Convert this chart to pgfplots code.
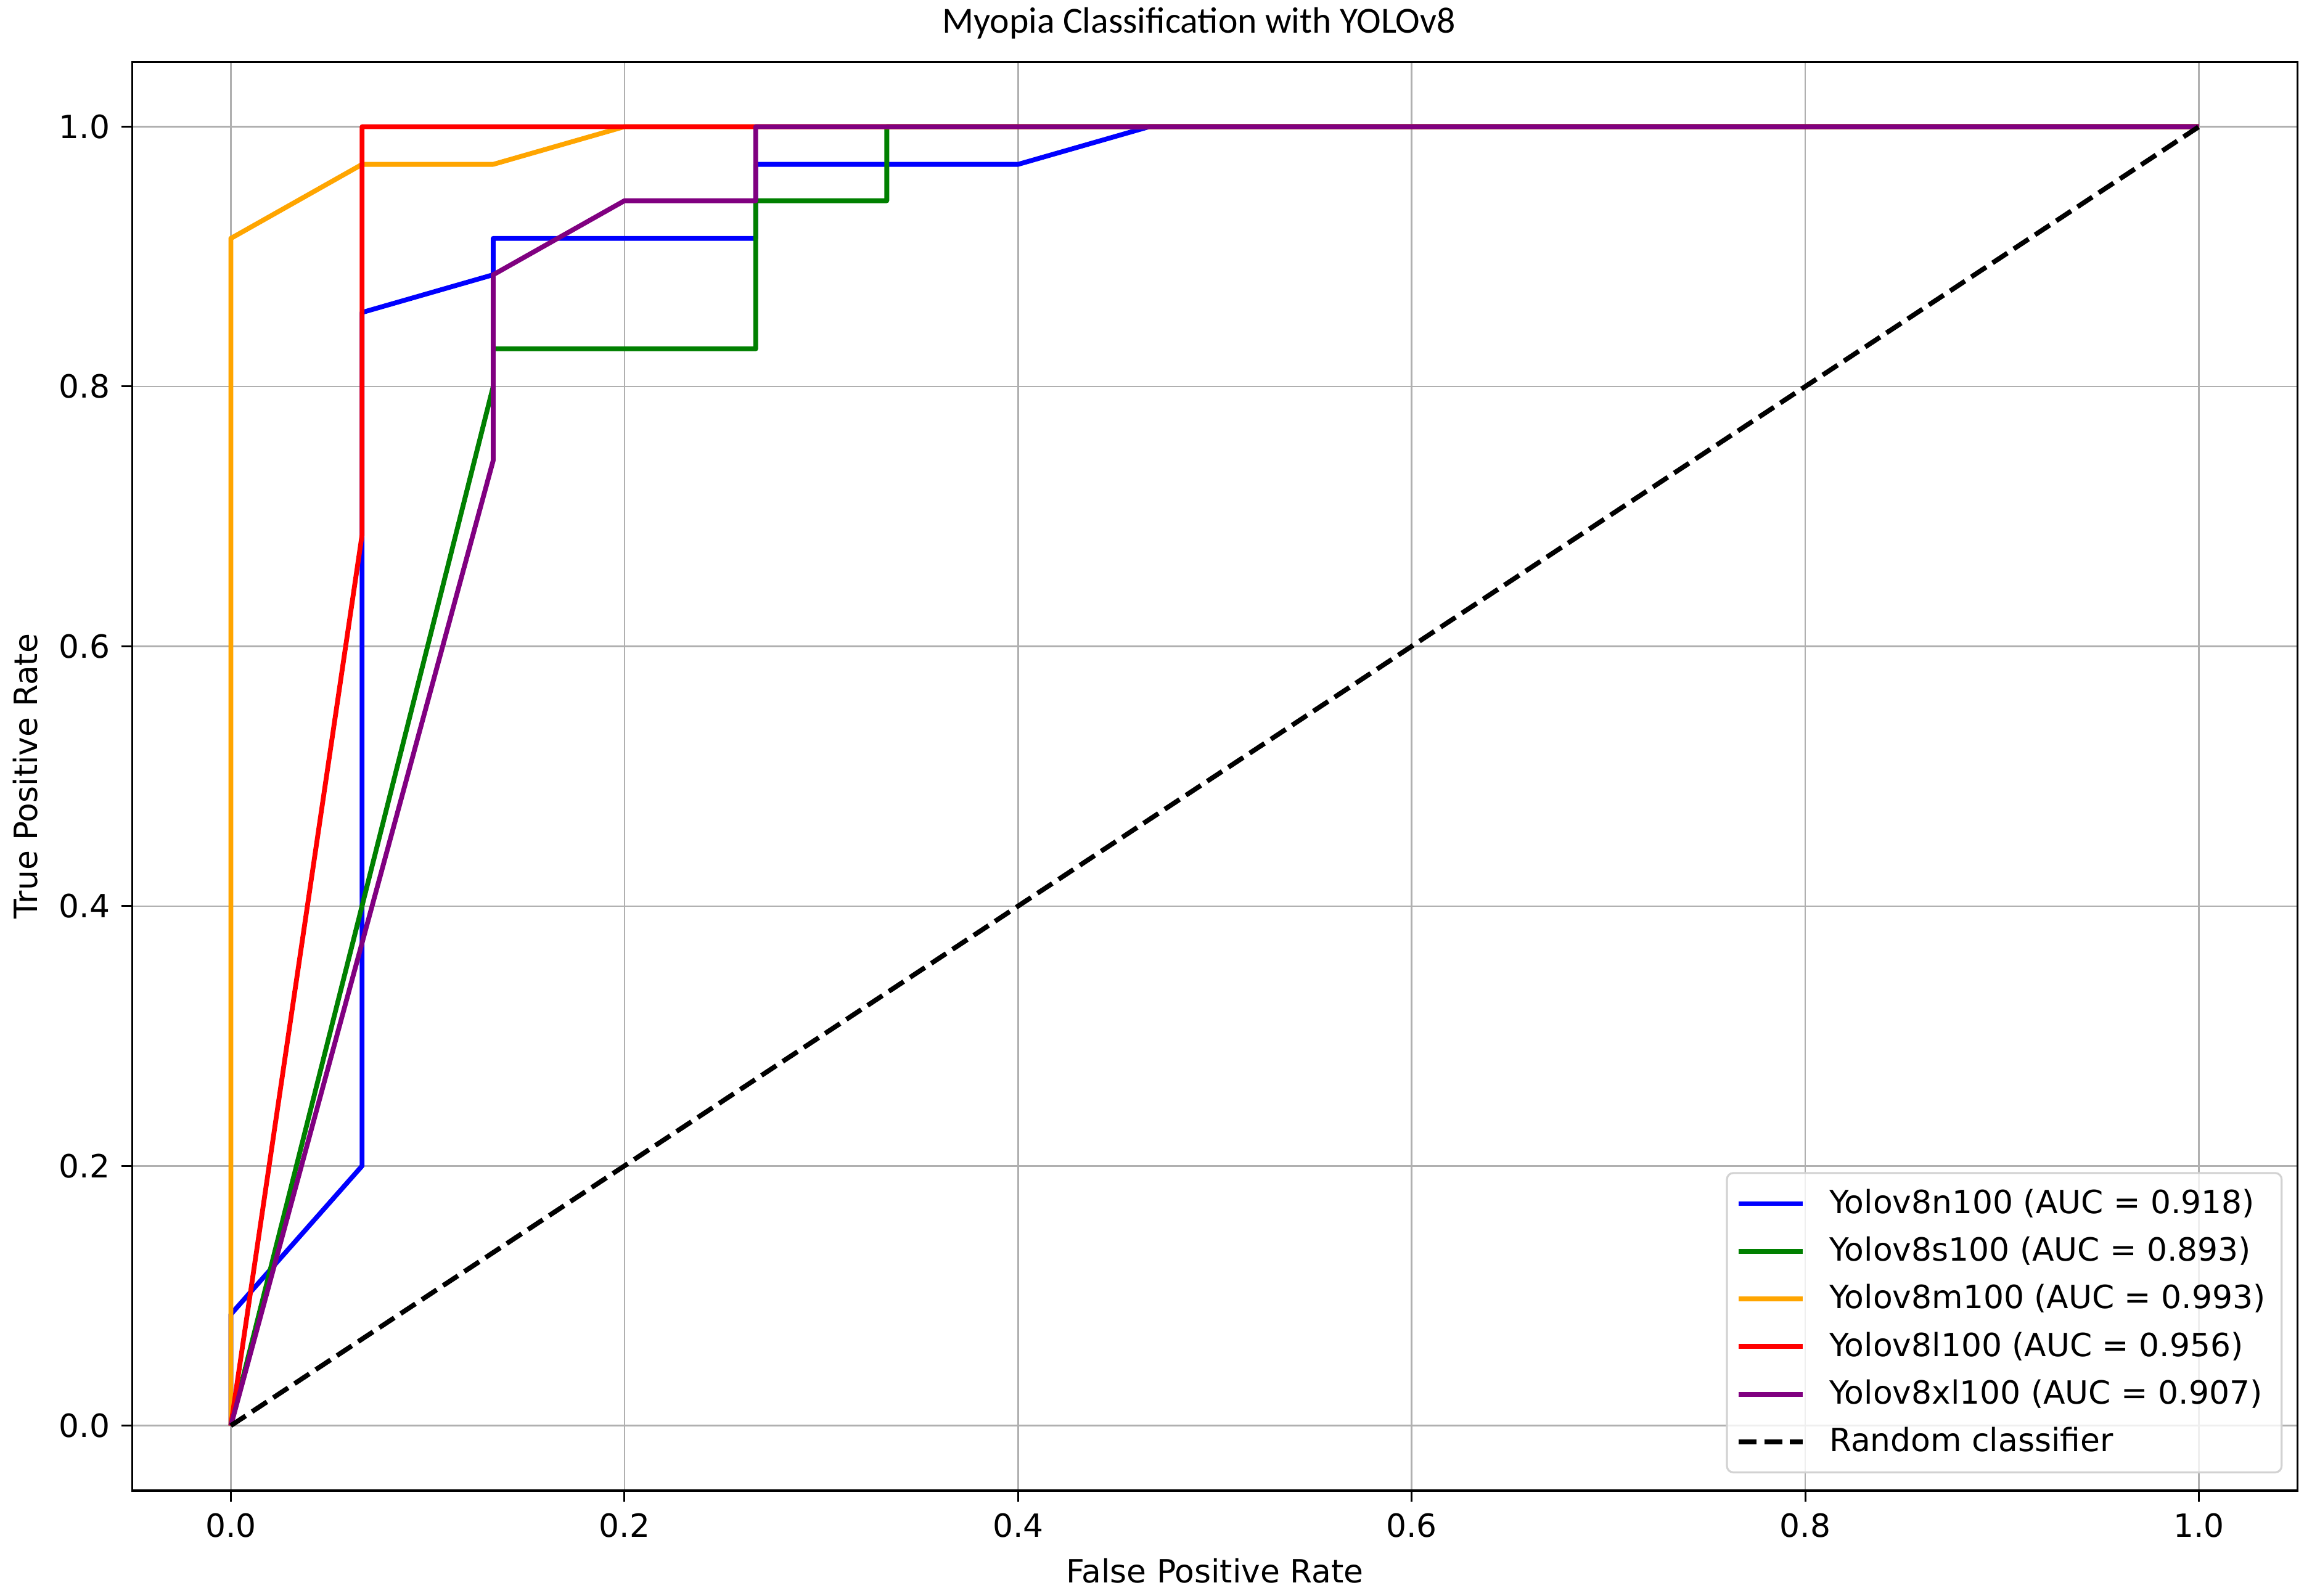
\documentclass[border=0pt]{standalone}
\usepackage{fontspec}
\setmainfont{DejaVu Sans}
\newfontfamily\titlefont{Carlito}
\usepackage{pgfplots}
\pgfplotsset{compat=1.18}
\definecolor{mplorange}{RGB}{255,165,0}
\definecolor{mplgreen}{RGB}{0,128,0}
\definecolor{mplpurple}{RGB}{128,0,128}
\definecolor{mplblue}{RGB}{0,0,255}
\definecolor{mplred}{RGB}{255,0,0}
\definecolor{gridgray}{RGB}{176,176,176}
\begin{document}
\begin{tikzpicture}
\begin{axis}[
  scale only axis, width=676.7pt, height=446.7pt,
  xmin=-0.05, xmax=1.05, ymin=-0.05, ymax=1.05,
  xtick={0,0.2,0.4,0.6,0.8,1}, ytick={0,0.2,0.4,0.6,0.8,1},
  xticklabel style={/pgf/number format/fixed, /pgf/number format/fixed zerofill, /pgf/number format/precision=1, /pgf/number format/assume math mode=true},
  yticklabel style={/pgf/number format/fixed, /pgf/number format/fixed zerofill, /pgf/number format/precision=1, /pgf/number format/assume math mode=true},
  ticklabel style={font=\fontsize{10}{12}\selectfont},
  grid=major, grid style={gridgray, line width=0.5pt},
  tick align=outside, tick pos=left, major tick length=3.5pt,
  tick style={black, line width=0.6pt},
  axis line style={line width=0.6pt},
  title={Myopia Classification with YOLOv8},
  title style={at={([xshift=-5pt,yshift=12pt]axis description cs:0.5,1)}, anchor=center, yshift=-6pt, font=\titlefont\fontsize{11.5}{13}\selectfont},
  xlabel={False Positive Rate},
  xlabel style={at={([yshift=-25pt]axis description cs:0.5,0)}, anchor=center, font=\fontsize{10}{12}\selectfont},
  ylabel={True Positive Rate},
  ylabel style={at={([xshift=-33.5pt]axis description cs:0,0.5)}, anchor=center, font=\fontsize{10}{12}\selectfont},
  legend style={at={(1,0)}, anchor=south east, xshift=-4.6pt, yshift=5.4pt,
    draw=gray!35, line width=0.6pt, rounded corners=2pt, fill=white, fill opacity=0.8, text opacity=1,
    font=\fontsize{10}{12}\selectfont, row sep=1.8pt, inner xsep=3pt, inner ysep=3pt,
    /tikz/every odd column/.append style={column sep=5.5pt}},
  legend cell align=left,
  legend image code/.code={\draw[#1] (0pt,0pt) -- (20pt,0pt);},
  every axis plot/.append style={line join=round},
]
\addplot[mplblue, line width=1.5pt] coordinates {(0,0) (0,0.0857) (0.0667,0.2) (0.0667,0.857) (0.1333,0.886) (0.1333,0.914) (0.2667,0.914) (0.2667,0.971) (0.4,0.971) (0.4667,1) (1,1)};
\addlegendentry{Yolov8n100 (AUC = 0.918)}
\addplot[mplgreen, line width=1.5pt] coordinates {(0,0) (0.1333,0.8) (0.1333,0.829) (0.2667,0.829) (0.2667,0.943) (0.3333,0.943) (0.3333,1) (1,1)};
\addlegendentry{Yolov8s100 (AUC = 0.893)}
\addplot[mplorange, line width=1.5pt] coordinates {(0,0) (0,0.914) (0.0667,0.971) (0.1333,0.971) (0.2,1) (1,1)};
\addlegendentry{Yolov8m100 (AUC = 0.993)}
\addplot[mplred, line width=1.5pt] coordinates {(0,0) (0.0667,0.686) (0.0667,1) (1,1)};
\addlegendentry{Yolov8l100 (AUC = 0.956)}
\addplot[mplpurple, line width=1.5pt] coordinates {(0,0) (0.1333,0.743) (0.1333,0.886) (0.2,0.943) (0.2667,0.943) (0.2667,1) (1,1)};
\addlegendentry{Yolov8xl100 (AUC = 0.907)}
\addplot[black, line width=1.5pt, dash pattern=on 5.55pt off 2.4pt] coordinates {(0,0) (1,1)};
\addlegendentry{Random classifier}
\coordinate (LL) at (rel axis cs:0,0);
\coordinate (UR) at (rel axis cs:1,1);
\end{axis}
\pgfresetboundingbox
\path[use as bounding box] ([xshift=-41.4pt,yshift=-32.8pt]LL) rectangle ([xshift=4.6pt,yshift=19.3pt]UR);
\end{tikzpicture}
\end{document}
